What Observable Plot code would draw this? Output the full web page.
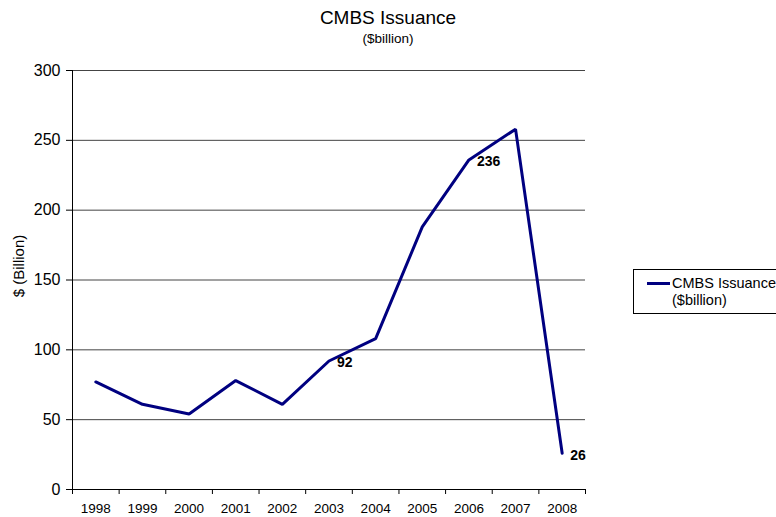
<!DOCTYPE html>
<html>
<head>
<meta charset="utf-8">
<script src="https://cdn.jsdelivr.net/npm/d3@7"></script>
<script src="https://cdn.jsdelivr.net/npm/@observablehq/plot@0.6"></script>
<style>
  html, body { margin: 0; padding: 0; background: #fff; }
  body { font-family: "Liberation Sans", Arial, sans-serif; }
  #wrap { position: relative; width: 776px; height: 517px; overflow: hidden; }
  #title { position: absolute; left: 0; width: 776px; top: 7px; text-align: center; font-size: 19px; line-height: 22px; color: #000; }
  #subtitle { position: absolute; left: 0; width: 776px; top: 31px; text-align: center; font-size: 13.5px; line-height: 16px; color: #000; }
  #ylabel { position: absolute; left: 19px; top: 266px; transform: translate(-50%, -50%) rotate(-90deg); white-space: nowrap; font-size: 15px; line-height: 16px; color: #000; }
  #legend { position: absolute; left: 633px; top: 269px; width: 160px; height: 45px; border: 1px solid #000; box-sizing: border-box; font-size: 14.5px; }
  #legend .sw { position: absolute; left: 13px; top: 12px; width: 23px; height: 3px; background: #000080; }
  #legend .tx { position: absolute; left: 38px; top: 5px; line-height: 17px; white-space: nowrap; }
</style>
</head>
<body>
<div id="wrap">
  <div id="chart"></div>
  <div id="title">CMBS Issuance</div>
  <div id="subtitle">($billion)</div>
  <div id="ylabel">$ (Billion)</div>
  <div id="legend"><div class="sw"></div><div class="tx">CMBS Issuance<br>($billion)</div></div>
</div>
<script>
const years = [1998, 1999, 2000, 2001, 2002, 2003, 2004, 2005, 2006, 2007, 2008];
const issuance = [77, 61, 54, 78, 61, 92, 108, 188, 236, 258, 26];
const labeledYears = [2003, 2006, 2008];
const yTicks = [0, 50, 100, 150, 200, 250, 300];

const data = years.map((y, i) => ({year: y, value: issuance[i]}));
const labeled = data.filter(d => labeledYears.includes(d.year));
const bounds = d3.range(years[0] - 0.5, years[years.length - 1] + 1, 1);

const chart = Plot.plot({
  width: 776,
  height: 517,
  marginLeft: 72,
  marginRight: 191,
  marginTop: 70,
  marginBottom: 28,
  style: {fontFamily: "'Liberation Sans', Arial, sans-serif", fontSize: "12px", color: "#000", background: "transparent"},
  x: {domain: [years[0] - 0.5, years[years.length - 1] + 0.5]},
  y: {domain: [0, 300]},
  marks: [
    Plot.gridY(yTicks.slice(1), {stroke: "#444", strokeOpacity: 1}),
    Plot.axisY({ticks: yTicks, tickSize: 6, tickPadding: 6, fontSize: 16, label: null, tickFormat: d3.format("d")}),
    Plot.axisX({ticks: bounds, tickSize: 5, tickFormat: () => "", label: null}),
    Plot.axisX({ticks: years, tickSize: 0, tickPadding: 14, fontSize: 13.5, tickFormat: d3.format("d"), label: null}),
    Plot.ruleX([years[0] - 0.5], {stroke: "#000"}),
    Plot.ruleY([0], {stroke: "#000"}),
    Plot.line(data, {x: "year", y: "value", stroke: "#000080", strokeWidth: 3, strokeLinejoin: "miter"}),
    Plot.text(labeled, {x: "year", y: "value", text: d => String(d.value), textAnchor: "start", dx: 8, dy: 2, fontWeight: "bold", fontSize: 14, fill: "#000"})
  ]
});
document.getElementById("chart").appendChild(chart);
</script>
</body>
</html>
